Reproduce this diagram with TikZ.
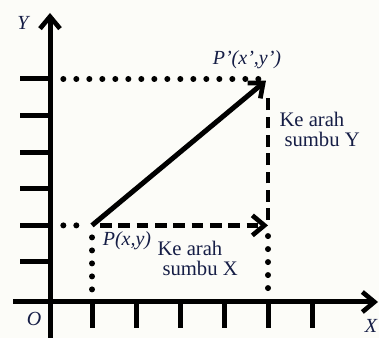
\documentclass[tikz,border=0pt]{standalone}
\usepackage{fontspec}
\setmainfont{Liberation Serif}
\usetikzlibrary{arrows.meta}
\definecolor{labelnavy}{RGB}{22,30,70}
\definecolor{paper}{RGB}{252,252,248}

\begin{document}
\begin{tikzpicture}[x=0.75pt, y=-0.75pt, line width=3.75pt,
  every node/.style={font=\fontsize{15.5}{15}\selectfont, text=labelnavy, inner sep=0pt},
  barb/.style={-{Straight Barb[length=9pt,width=15pt,line width=3.5pt]}},
  axisline/.style={barb},
  tick/.style={line cap=butt},
  dotline/.style={line width=4.5pt, line cap=round, dash pattern=on 0pt off 9.75pt},
  dashline/.style={line width=3.5pt, dash pattern=on 8.75pt off 5pt},
  lbl/.style={font=\fontsize{15}{15}\itshape}]
  \fill[paper] (0,0) rectangle (379,338);
  \useasboundingbox (0,0) rectangle (379,338);
  % axes
  \coordinate (O) at (50,302);
  \coordinate (ytop) at (50,13);
  \coordinate (ybot) at (50,338);
  \coordinate (xleft) at (13,302);
  \coordinate (xright) at (378,302);
  \draw[axisline] (ybot) -- (ytop);
  \draw[axisline] (xleft) -- (xright);
  \foreach \k in {0,...,5} {
    \draw[tick] (20,79+36.6*\k) -- (50,79+36.6*\k);
    \draw[tick] (92+44*\k,302) -- (92+44*\k,328);
  }
  % points
  \coordinate (P) at (92,225.4);
  \coordinate (Q) at (268,79);
  \coordinate (A) at (268,225.4);
  \coordinate (yp) at (50,225.4);
  \coordinate (yq) at (50,79);
  \coordinate (xp) at (92,302);
  \coordinate (xq) at (268,302);
  \draw[dotline, shorten <=10pt] (yq) -- (Q);
  \draw[dotline, shorten <=10pt, shorten >=2pt] (yp) -- (P);
  \draw[dotline, shorten <=9pt, shorten >=6pt] (P) -- (xp);
  \draw[dotline, shorten <=8pt, shorten >=6pt] (A) -- (xq);
  \draw[dashline, barb, shorten <=6pt] (P) -- (A);
  \draw[dashline, shorten <=4pt, shorten >=11pt] (A) -- (Q);
  \draw[barb, shorten >=2pt] (P) -- (Q);
  % labels
  \node[lbl] (ylab) at (23,23) {Y};
  \node[lbl] (olab) at (34,319) {O};
  \node[lbl] (xlab) at (371,326) {X};
  \node[lbl] (qlab) at (247,60) {P'(x',y')};
  \node[lbl] (plab) at (127,241) {P(x,y)};
  \node[anchor=north west, align=left] (tx) at (155,239) {Ke arah\\\hspace*{3.75pt}sumbu X};
  \node[anchor=north west, align=left] (ty) at (277,110) {Ke arah\\\hspace*{3.75pt}sumbu Y};
\end{tikzpicture}
\end{document}
